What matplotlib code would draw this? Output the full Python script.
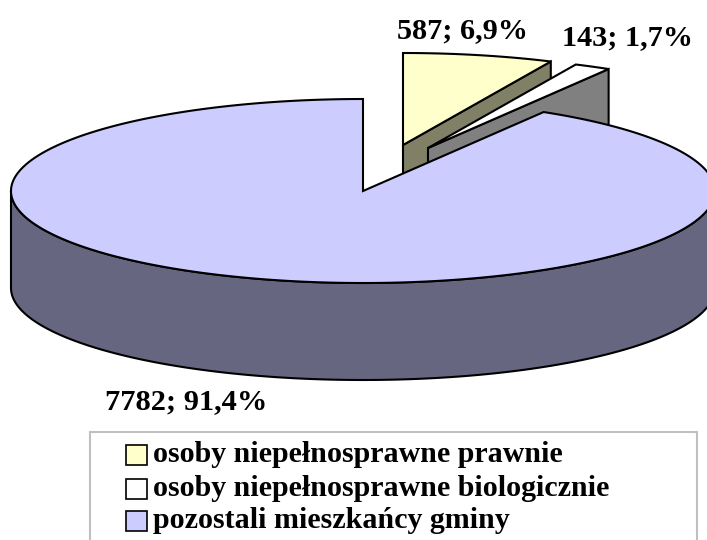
import numpy as np
import matplotlib
matplotlib.use('Agg')
import matplotlib.pyplot as plt
from matplotlib.patches import Polygon, Rectangle

plt.rc('font', family='Liberation Serif', weight='bold')

# data
names = ['osoby niepełnosprawne prawnie',
         'osoby niepełnosprawne biologicznie',
         'pozostali mieszkańcy gminy']
values = [587, 143, 7782]
labels = ['587; 6,9%', '143; 1,7%', '7782; 91,4%']

top_colors = ['#FFFFCC', '#FFFFFF', '#CCCCFF']
side_colors = ['#808066', '#808080', '#666680']

# pie geometry in pixels
cx, cy = 363, 191
rx, ry = 352, 92
depth = 97
shifts = [(40, -46), (65, -43), (0, 0)]
line = 1.5


def rim(theta, dx=0, dy=0):
    '''Points on the ellipse, theta clockwise from 12 o'clock.'''
    return np.column_stack([cx + dx + rx * np.sin(theta),
                            cy + dy - ry * np.cos(theta)])


fig = plt.figure(figsize=(7.07, 5.40), dpi=100)
ax = fig.add_axes([0, 0, 1, 1])
ax.set_xlim(0, 707)
ax.set_ylim(540, 0)
ax.axis('off')

edges = np.cumsum([0] + values) / sum(values) * 2 * np.pi

# the two pulled out slices, back to front
for i in [0, 1]:
    dx, dy = shifts[i]
    t0, t1 = edges[i], edges[i + 1]
    apex = np.array([cx + dx, cy + dy])
    # the cut face turned to the viewer
    end = rim(np.array([t1]), dx, dy)[0]
    face = [apex, end, end + [0, depth], apex + [0, depth]]
    ax.add_patch(Polygon(face, closed=True, fc=side_colors[i], ec='black', lw=line))
    arc = rim(np.linspace(t0, t1, 40), dx, dy)
    ax.add_patch(Polygon(np.vstack([apex, arc]), closed=True,
                         fc=top_colors[i], ec='black', lw=line))

# big slice: wall first, then the top
t0, t1 = edges[2], edges[3]
lower = rim(np.linspace(np.pi / 2, 3 * np.pi / 2, 200))
wall = np.vstack([lower, (lower + [0, depth])[::-1]])
ax.add_patch(Polygon(wall, closed=True, fc=side_colors[2], ec='black', lw=line))
arc = rim(np.linspace(t0, t1, 400))
ax.add_patch(Polygon(np.vstack([[cx, cy], arc]), closed=True,
                     fc=top_colors[2], ec='black', lw=line))

# data labels
ax.text(397, 31, labels[0], fontsize=21.8, ha='left', va='center')
ax.text(562, 38, labels[1], fontsize=21.8, ha='left', va='center')
ax.text(105, 402, labels[2], fontsize=21.9, ha='left', va='center')

# legend box, runs off the bottom of the picture
ax.add_patch(Rectangle((90, 432), 607, 120, fc='white', ec='#C0C0C0', lw=1.5))
rows = [455, 489, 521]
for name, color, y in zip(names, top_colors, rows):
    ax.add_patch(Rectangle((126, y - 10), 21, 20, fc=color, ec='black', lw=1.2))
    ax.text(153, y, name, fontsize=21.6, ha='left', va='center')

fig.savefig('out.png', dpi=100)
